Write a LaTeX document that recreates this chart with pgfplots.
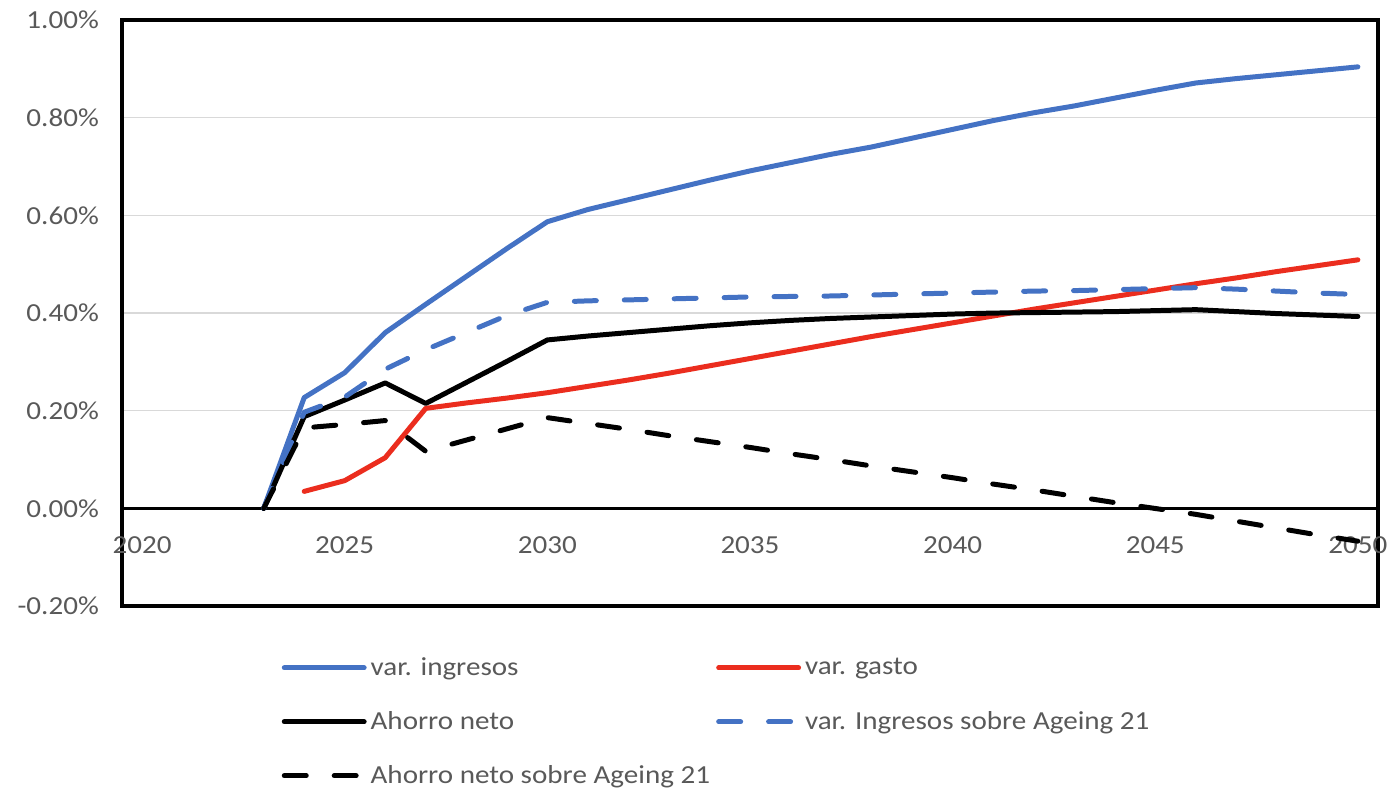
\documentclass[border=0pt]{standalone}
\usepackage{pgfplots}
\usepackage{pgfplotstable}
\pgfplotsset{compat=1.18}
\usepackage{fontspec}
\setmainfont{Carlito}[FakeStretch=1.12]
\definecolor{exblue}{HTML}{4472C4}
\definecolor{exred}{RGB}{235,45,30}
\definecolor{labgray}{HTML}{595959}
\definecolor{gridgray}{HTML}{D9D9D9}

\pgfplotstableread{
year ingresos gasto ahorro ingAg ahAg
2023 0     nan   0     0     0
2024 0.227 0.035 0.188 0.197 0.165
2025 0.278 0.057 0.222 0.228 0.172
2026 0.360 0.104 0.257 0.285 0.180
2027 0.418 0.205 0.215 0.325 0.117
2028 0.475 0.216 0.258 0.360 0.140
2029 0.532 0.226 0.301 0.395 0.163
2030 0.587 0.237 0.345 0.422 0.186
2031 0.612 0.250 0.353 0.425 0.174
2032 0.632 0.263 0.360 0.427 0.162
2033 0.652 0.277 0.367 0.429 0.149
2034 0.672 0.292 0.374 0.431 0.137
2035 0.691 0.307 0.380 0.433 0.125
2036 0.708 0.322 0.385 0.434 0.112
2037 0.725 0.337 0.389 0.435 0.100
2038 0.740 0.352 0.392 0.437 0.087
2039 0.758 0.366 0.395 0.439 0.075
2040 0.776 0.380 0.398 0.441 0.063
2041 0.794 0.394 0.400 0.443 0.050
2042 0.810 0.408 0.401 0.445 0.038
2043 0.824 0.421 0.402 0.446 0.025
2044 0.840 0.434 0.403 0.448 0.012
2045 0.856 0.447 0.405 0.450 0.000
2046 0.871 0.460 0.407 0.452 -0.012
2047 0.880 0.472 0.403 0.449 -0.026
2048 0.888 0.485 0.399 0.445 -0.040
2049 0.896 0.497 0.396 0.441 -0.054
2050 0.904 0.509 0.393 0.438 -0.067
}\data

\begin{document}
\begin{tikzpicture}
\begin{axis}[
  name=ax,
  scale only axis, width=629pt, height=293.5pt,
  xmin=2019.5, xmax=2050.5, ymin=-0.2, ymax=1.0,
  xtick={2020,2025,2030,2035,2040,2045,2050},
  xticklabels={2020,2025,2030,2035,2040,2045,2050},
  ytick={-0.2,0,0.2,0.4,0.6,0.8,1.0},
  yticklabels={-0.20\%,0.00\%,0.20\%,0.40\%,0.60\%,0.80\%,1.00\%},
  major tick length=0pt,
  ymajorgrids, grid style={gridgray, line width=0.6pt},
  extra y ticks={0}, extra y tick labels={},
  extra y tick style={grid style={black, line width=1.3pt}},
  axis line style={black, line width=1.75pt},
  tick label style={font=\fontsize{13}{15}\selectfont, text=labgray},
  xticklabel style={yshift=38.5pt},
  yticklabel style={xshift=-8pt},
  legend columns=2,
  legend cell align=left,
  legend style={at={(0.127,-0.080)}, anchor=north west, draw=none, fill=none,
    font=\fontsize{13}{15}\selectfont, text=labgray, inner sep=0pt, row sep=12.5pt},
  legend image code/.code={\draw[#1] (0pt,0pt) -- (40pt,0pt);},
  every axis plot/.append style={line width=2.5pt, line join=round, line cap=round},
]
\addplot[exblue] table[x=year, y=ingresos] {\data};
\addlegendentry{\makebox[171pt][l]{var. ingresos}}
\addplot[exred] table[x=year, y=gasto] {\data};
\addlegendentry{var. gasto}
\addplot[black] table[x=year, y=ahorro] {\data};
\addlegendentry{\makebox[171pt][l]{Ahorro neto}}
\addplot[exblue, dash pattern=on 11pt off 14pt] table[x=year, y=ingAg] {\data};
\addlegendentry{var. Ingresos sobre Ageing 21}
\addplot[black, dash pattern=on 11pt off 14pt] table[x=year, y=ahAg] {\data};
\addlegendentry{\makebox[171pt][l]{Ahorro neto sobre Ageing 21}}
\end{axis}
\path ([shift={(-61pt,-92pt)}]ax.south west) rectangle ([shift={(7pt,10pt)}]ax.north east);
\end{tikzpicture}
\end{document}
